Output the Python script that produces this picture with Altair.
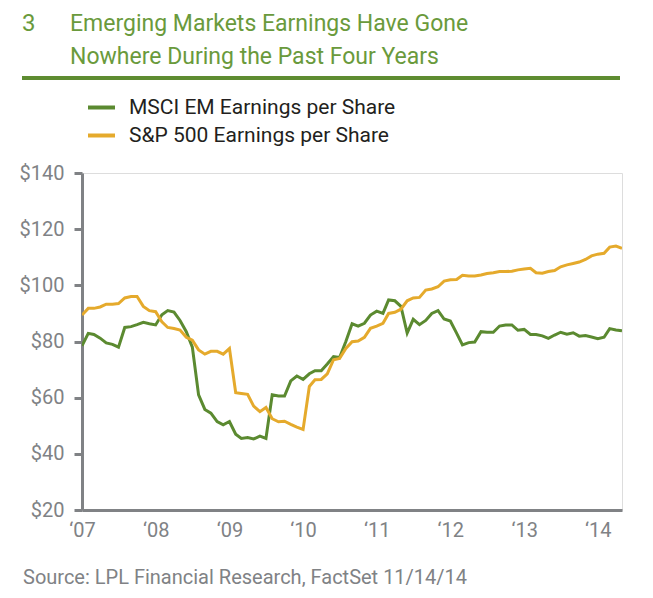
import altair as alt
import pandas as pd

# Monthly data, Jan 2007 - May 2014
months = pd.date_range("2007-01-01", periods=89, freq="MS").strftime("%Y-%m-%d").tolist()

msci_em = [78.5, 82.9, 82.5, 81.2, 79.5, 79.0, 78.0, 85.0, 85.3, 86.0,
           86.8, 86.3, 85.9, 89.5, 91.0, 90.5, 87.5, 83.5, 78.0, 61.0,
           55.8, 54.5, 51.5, 50.3, 51.5, 47.0, 45.5, 45.8, 45.3, 46.3,
           45.5, 61.0, 60.6, 60.6, 66.0, 67.7, 66.5, 68.5, 69.6, 69.6,
           72.0, 74.6, 74.3, 80.0, 86.3, 85.5, 86.5, 89.4, 90.8, 90.0,
           94.8, 94.5, 92.5, 83.0, 87.9, 86.0, 87.5, 90.0, 91.0, 88.0,
           87.3, 83.0, 78.8, 79.6, 79.8, 83.5, 83.3, 83.3, 85.5, 85.9,
           85.9, 84.0, 84.3, 82.5, 82.5, 82.0, 81.1, 82.3, 83.3, 82.6,
           83.1, 81.9, 82.1, 81.6, 81.0, 81.5, 84.6, 84.1, 83.8]

sp500 = [89.4, 91.8, 91.8, 92.3, 93.3, 93.3, 93.5, 95.5, 96.0, 96.0,
         92.5, 91.0, 90.6, 87.0, 85.0, 84.6, 84.1, 81.5, 80.5, 77.0,
         75.5, 76.5, 76.5, 75.5, 77.5, 61.8, 61.5, 61.2, 57.0, 55.0,
         56.5, 52.5, 51.4, 51.6, 50.5, 49.5, 48.7, 64.0, 66.4, 66.5,
         68.5, 73.5, 74.0, 77.5, 79.9, 80.2, 81.5, 84.7, 85.5, 86.5,
         90.0, 90.4, 91.5, 94.5, 95.5, 95.7, 98.3, 98.7, 99.5, 101.5,
         102.0, 102.1, 103.6, 103.3, 103.3, 103.7, 104.2, 104.5, 104.9, 104.9,
         105.0, 105.5, 105.8, 106.1, 104.5, 104.3, 104.9, 105.3, 106.6, 107.3,
         107.8, 108.3, 109.2, 110.5, 111.1, 111.4, 113.6, 114.0, 113.2]

series_names = ["MSCI EM Earnings per Share", "S&P 500 Earnings per Share"]
series_colors = ["#5b8a30", "#e5aa2c"]
y_ticks = [20, 40, 60, 80, 100, 120, 140]
x_ticks = [f"{y}-01-01" for y in range(2007, 2015)]

title_number = "3"
title_line1 = "Emerging Markets Earnings Have Gone"
title_line2 = "Nowhere During the Past Four Years"
source_text = "Source: LPL Financial Research, FactSet  11/14/14"

FONT = "Roboto"
GRAY = "#808285"
TITLE_GREEN = "#6a9a3c"

df = pd.concat([
    pd.DataFrame({"date": months, "value": msci_em, "series": series_names[0]}),
    pd.DataFrame({"date": months, "value": sp500, "series": series_names[1]}),
])

lines = alt.Chart(df).mark_line(strokeWidth=3, clip=True).encode(
    x=alt.X("date:T",
            scale=alt.Scale(domain=["2007-01-01", "2014-05-01"]),
            axis=alt.Axis(values=x_ticks, format="‘%y", title=None, ticks=False,
                          grid=False, labelFontSize=20, labelColor=GRAY, labelFont=FONT,
                          labelPadding=10, domainColor=GRAY, domainWidth=3,
                          labelFlush=False)),
    y=alt.Y("value:Q",
            scale=alt.Scale(domain=[20, 140], nice=False, zero=False),
            axis=alt.Axis(values=y_ticks, format="$,.0f", title=None, grid=False,
                          tickSize=8, tickWidth=3, tickColor=GRAY, labelFontSize=20,
                          labelColor=GRAY, labelFont=FONT, labelPadding=10,
                          domainColor=GRAY, domainWidth=3)),
    color=alt.Color("series:N",
                    scale=alt.Scale(domain=series_names, range=series_colors),
                    legend=alt.Legend(title=None, orient="none", legendX=4, legendY=-81,
                                      direction="vertical", symbolType="stroke",
                                      symbolStrokeWidth=4, symbolSize=729,
                                      labelFontSize=21, labelFont=FONT, labelLimit=500,
                                      labelColor="#231f20", labelOffset=12,
                                      rowPadding=2, padding=0)),
)

def label(text, x, y, size, color):
    return alt.Chart(pd.DataFrame({"t": [text]})).mark_text(
        align="left", baseline="alphabetic", fontSize=size, font=FONT, color=color
    ).encode(text="t:N", x=alt.value(x), y=alt.value(y))

title_num = label(title_number, -60, -142, 24, TITLE_GREEN)
title_1 = label(title_line1, -12, -142, 23, TITLE_GREEN)
title_2 = label(title_line2, -12, -109, 23, TITLE_GREEN)
source = label(source_text, -59, 411, 20, GRAY)

rule = alt.Chart(pd.DataFrame({"a": [0]})).mark_rule(color="#5e8c31", strokeWidth=4).encode(
    x=alt.value(-60), x2=alt.value(538), y=alt.value(-95))

chart = alt.layer(lines, title_num, title_1, title_2, rule, source).properties(
    width=540, height=337,
    autosize=alt.AutoSizeParams(type="none"),
    padding={"left": 74, "top": 165, "right": 20, "bottom": 80},
).configure_view(stroke=None).configure(background="white")

chart.save("out.html", embed_options={"renderer": "svg", "actions": False})
